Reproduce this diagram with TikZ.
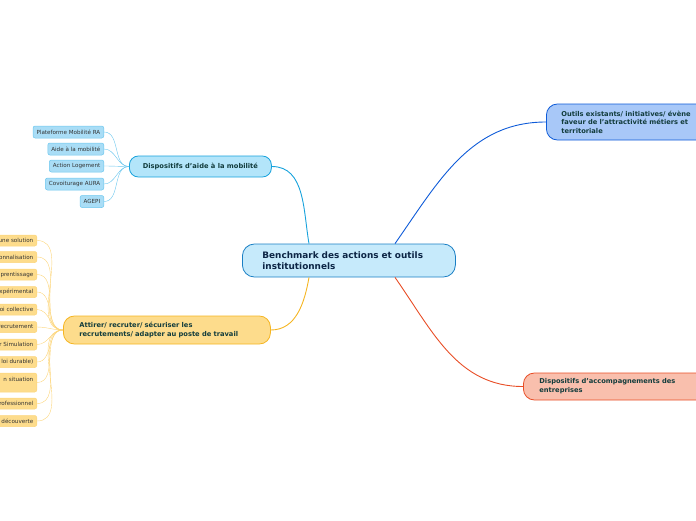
\documentclass[tikz,border=0pt]{standalone}
\usepackage{fontspec}
\setmainfont{DejaVu Sans}
\usetikzlibrary{positioning}

\definecolor{centerfill}{HTML}{C6EAFB}
\definecolor{centerline}{HTML}{1A7FC4}
\definecolor{centertext}{HTML}{0C2545}
\definecolor{topictext}{HTML}{123C3C}
\definecolor{aidefill}{HTML}{B3E5FA}
\definecolor{aideline}{HTML}{17A2DC}
\definecolor{aideleaffill}{HTML}{A9DDF6}
\definecolor{aideleafline}{HTML}{6CC7EE}
\definecolor{attirerfill}{HTML}{FDDC8C}
\definecolor{attirerline}{HTML}{F5B521}
\definecolor{attirerleafline}{HTML}{FCD57A}
\definecolor{outilsfill}{HTML}{A8C8F8}
\definecolor{outilsline}{HTML}{0E5BD8}
\definecolor{accompfill}{HTML}{F9BFAD}
\definecolor{accompline}{HTML}{E84E27}

\tikzset{
    central/.style={draw=centerline, fill=centerfill, line width=0.8pt, rounded corners=12pt,
        font=\bfseries\fontsize{8.9}{11}\selectfont, text=centertext, align=left,
        minimum height=33pt, inner xsep=20pt, text width=173pt, anchor=west},
    topic/.style={line width=0.8pt, rounded corners=11pt,
        font=\bfseries\fontsize{6.7}{8.8}\selectfont, text=topictext, align=left, anchor=west},
    leaf/.style={line width=0.5pt, rounded corners=2pt, font=\fontsize{5.6}{6.5}\selectfont,
        text=black!80, minimum height=12pt, inner xsep=3.5pt, inner ysep=1pt, anchor=east},
    aideleaf/.style={leaf, draw=aideleafline, fill=aideleaffill},
    attirerleaf/.style={leaf, draw=attirerleafline, fill=attirerfill, text width=60pt, align=right, minimum height=11pt},
    mainlink/.style={line width=0.9pt, draw=#1},
    leaflink/.style={line width=0.4pt, draw=#1}
}

\begin{document}
\begin{tikzpicture}[x=1pt, y=1pt]
    \useasboundingbox (0,0) rectangle (696,-520);
    \clip (0,0) rectangle (696,-520);

    % central topic
    \node[central] (bench) at (242,-260.5) {Benchmark des actions et outils\\institutionnels};

    % main topics
    \node[topic, draw=aideline, fill=aidefill, minimum width=142pt, minimum height=21pt, align=center, rounded corners=9pt] (aide) at (129,-166.5) {Dispositifs d'aide à la mobilité};
    \node[topic, draw=attirerline, fill=attirerfill, minimum height=28pt, inner xsep=16pt, text width=175pt] (attirer) at (63,-330) {Attirer/ recruter/ sécuriser les\\recrutements/ adapter au poste de travail};
    \node[topic, draw=outilsline, fill=outilsfill, minimum height=36pt, inner xsep=15pt, text width=170pt, font=\bfseries\fontsize{6.7}{8.5}\selectfont] (outils) at (546,-122) {Outils existants/ initiatives/ évène\\faveur de l'attractivité métiers et\\territoriale};
    \node[topic, draw=accompline, fill=accompfill, minimum height=27pt, inner xsep=16pt, text width=170pt] (accomp) at (523,-386.5) {Dispositifs d'accompagnements des\\entreprises};

    \draw[mainlink=aideline] (aide.east) to[out=0, in=100] ([xshift=67pt]bench.north west);
    \draw[mainlink=attirerline] (attirer.east) to[out=0, in=-100] ([xshift=67pt]bench.south west);
    \draw[mainlink=outilsline] (outils.west) to[out=180, in=55] ([xshift=153pt]bench.north west);
    \draw[mainlink=accompline] (accomp.west) to[out=180, in=-55] ([xshift=153pt]bench.south west);

    % mobilite
    \node[aideleaf] (plateforme) at (104,-132) {Plateforme Mobilité RA};
    \node[aideleaf] (aidemob) at (104,-149) {Aide à la mobilité};
    \node[aideleaf] (logement) at (104,-166) {Action Logement};
    \node[aideleaf] (covoit) at (104,-184) {Covoiturage AURA};
    \node[aideleaf] (agepi) at (104,-201.5) {AGEPI};
    \foreach \n in {plateforme,aidemob,logement,covoit,agepi}
        \draw[leaflink=aideleafline] (\n.east) to[out=0, in=180] (aide.west);

    % attirer / recruter
    \node[attirerleaf] (solution) at (37,-240.5) {une solution};
    \node[attirerleaf] (perso) at (37,-257) {onnalisation};
    \node[attirerleaf] (apprenti) at (37,-274.5) {prentissage};
    \node[attirerleaf] (experim) at (37,-292) {xpérimental};
    \node[attirerleaf] (collective) at (37,-309.5) {oi collective};
    \node[attirerleaf] (recrut) at (37,-327) {recrutement};
    \node[attirerleaf] (simul) at (37,-344.5) {r Simulation};
    \node[attirerleaf] (durable) at (37,-362) {loi durable)};
    \node[attirerleaf, minimum height=19pt] (situation) at (37,-382.5) {n situation\\~};
    \node[attirerleaf] (profess) at (37,-403.5) {rofessionnel};
    \node[attirerleaf] (decouv) at (37,-421) {découverte};
    \foreach \n in {solution,perso,apprenti,experim,collective,recrut,simul,durable,situation,profess,decouv}
        \draw[leaflink=attirerleafline] (\n.east) to[out=0, in=180] (attirer.west);
\end{tikzpicture}
\end{document}
